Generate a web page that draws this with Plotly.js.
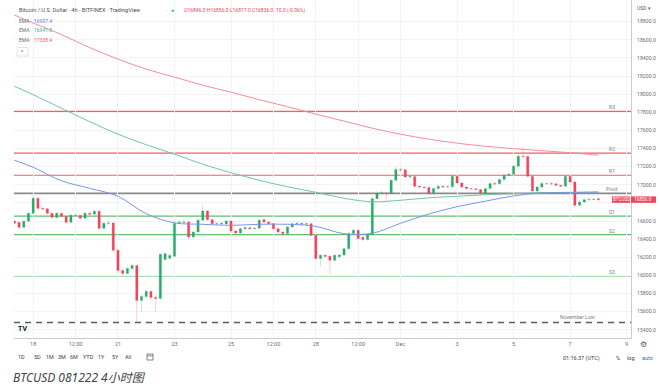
<!DOCTYPE html>
<html><head><meta charset="utf-8">
<script src="https://cdn.plot.ly/plotly-3.0.1.min.js"></script>
<style>html,body{margin:0;padding:0;background:#fff;}#chart{width:660px;height:388px;}</style>
</head><body><div id="chart"></div>
<script>
// ---------- DATA ----------
const candleStart = '2022-11-17T08:00:00Z';   // first 4h candle
const candleHours = 4;
const openP = [
16600,16586,16530,16597,16685,16851,16740,16735,16685,16640,
16685,16652,16585,16663,16660,16630,16685,16674,16707,16520,
16575,16578,16276,16055,16022,16077,16110,15724,15768,15823,
15757,15745,16175,16190,16210,16575,16585,16590,16423,16478,
16608,16710,16615,16571,16568,16568,16600,16490,16467,16516,
16527,16516,16520,16615,16590,16571,16516,16478,16461,16534,
16571,16575,16563,16571,16442,16185,16221,16210,16166,16205,
16225,16295,16461,16497,16420,16395,16450,16847,16903,16910,
16903,17050,17168,17165,17086,17090,16983,16976,16970,16903,
16958,16983,16976,16978,17094,17020,16976,16958,16955,16947,
16909,16958,17013,17010,17057,17105,17116,17204,17315,17312,
17094,16931,16976,17013,17015,17010,16995,16983,17094,17031,
16773,16810,16836,16838,16846];
const highP = [
16610,16595,16610,16700,16880,16860,16760,16745,16695,16700,
16695,16660,16675,16680,16670,16700,16695,16730,16715,16590,
16600,16590,16290,16080,16090,16130,16120,15790,15850,15835,
15770,16250,16260,16240,16600,16610,16620,16600,16495,16625,
16770,16720,16625,16585,16590,16615,16610,16500,16530,16545,
16535,16535,16625,16630,16600,16580,16525,16490,16545,16585,
16590,16585,16590,16580,16450,16235,16230,16220,16235,16240,
16310,16480,16520,16505,16430,16465,16870,16930,16935,16925,
17065,17200,17185,17175,17105,17095,16995,16990,16980,16970,
17000,16995,16995,17110,17100,17030,16985,16970,16965,16955,
16970,17025,17030,17070,17120,17135,17220,17350,17420,17330,
17100,16990,17030,17030,17025,17020,17000,17110,17100,17040,
16830,16850,16855,16855,16856];
const lowP = [
16560,16510,16520,16590,16670,16725,16720,16670,16630,16630,
16640,16570,16575,16645,16615,16620,16660,16665,16500,16505,
16560,16250,16020,15990,16010,16060,15480,15600,15750,15740,
15600,15730,16160,16170,16200,16560,16570,16400,16405,16470,
16600,16600,16555,16555,16555,16560,16475,16430,16455,16505,
16500,16505,16510,16575,16560,16500,16460,16430,16450,16525,
16560,16550,16555,16425,16170,16100,16195,16010,16150,16190,
16215,16285,16450,16395,16380,16385,16440,16835,16890,16820,
16895,17040,17140,17075,17070,16970,16960,16955,16890,16890,
16950,16965,16965,16970,17010,16965,16945,16940,16935,16895,
16900,16950,16995,17000,17050,17095,17105,17195,17290,17080,
16910,16920,16965,17000,16995,16985,16970,16975,17020,16750,
16760,16800,16825,16825,16817];
const closeP = [
16575,16530,16597,16685,16851,16740,16735,16685,16640,16685,
16652,16585,16663,16660,16630,16685,16674,16707,16520,16575,
16578,16276,16055,16022,16077,16110,15724,15768,15823,15757,
15745,16232,16240,16220,16575,16585,16590,16423,16478,16608,
16710,16615,16571,16568,16575,16600,16490,16467,16516,16527,
16516,16520,16608,16590,16571,16516,16478,16461,16534,16571,
16575,16563,16571,16442,16185,16221,16210,16166,16221,16225,
16295,16461,16497,16406,16395,16450,16847,16903,16910,16903,
17050,17168,17165,17086,17090,16983,16976,16970,16903,16958,
16983,16976,16978,17094,17020,16976,16958,16955,16947,16909,
16958,17013,17010,17057,17105,17116,17204,17315,17312,17094,
16931,16976,17013,17015,17010,16995,16983,17094,17031,16773,
16810,16836,16838,16840,16836];

const emaTimes = ['2022-11-17 08:00','2022-11-18','2022-11-19','2022-11-20','2022-11-21','2022-11-22',
  '2022-11-23','2022-11-24','2022-11-25','2022-11-26','2022-11-27','2022-11-28','2022-11-29',
  '2022-11-30','2022-12-01','2022-12-02','2022-12-03','2022-12-04','2022-12-05','2022-12-06',
  '2022-12-07','2022-12-08'];
const emaBlue = [17271,17193,17044,16961,16873,16680,16580,16564,16552,16564,16564,16541,
  16460,16465,16575,16677,16758,16819,16877,16910,16912,16912];
const emaTeal = [18088,17994,17845,17696,17558,17442,17337,17227,17133,17050,16978,16917,
  16851,16812,16829,16856,16873,16890,16901,16912,16917,16923];
const emaRed  = [18873,18785,18657,18514,18387,18276,18188,18099,18022,17939,17862,17779,
  17702,17624,17558,17503,17459,17425,17398,17376,17354,17326];
const emaLegend = ['16907.4','16941.0','17338.4'];

const levelNames  = ['R3','R2','R1','Pivot','S1','S2','S3'];
const levelValues = [17810,17350,17105,16905,16655,16450,15995];
const novemberLow = 15480;

const xTickVals = ['2022-11-18','2022-11-19 12:00','2022-11-21','2022-11-23','2022-11-25',
  '2022-11-26 12:00','2022-11-28','2022-11-29 12:00','2022-12-01','2022-12-03','2022-12-05',
  '2022-12-07','2022-12-09'];
const xTickText = ['18','12:00','21','23','25','12:00','28','12:00','Dec','3','5','7','9'];
const yTickVals = [15400,15600,15800,16000,16200,16400,16600,16800,17000,17200,17400,17600,
  17800,18000,18200,18400,18600,18800];
const yTickText = ['15400.0','15600.0','15800.0','16000.0','16200.0','16400.0','16600.0','',
  '17000.0','17200.0','17400.0','17600.0','17800.0','18000.0','18200.0','18400.0','18600.0','18800.0'];
const rangeButtons = ['1D','5D','1M','3M','6M','YTD','1Y','5Y','All'];

// ---------- BUILD ----------
const t0 = Date.parse(candleStart);
const candleTimes = closeP.map((_, i) =>
  new Date(t0 + i * candleHours * 3600e3).toISOString().slice(0, 16).replace('T', ' '));

const UP = '#2eaa6c', DOWN = '#f0455a';
const ML = 14, MR = 29, MT = 0, MB = 50, W = 660, H = 388;
const PW = W - ML - MR, PH = H - MT - MB;
const px = x => (x - ML) / PW;
const py = y => 1 - (y - MT) / PH;
const FONT = 'Roboto, "Noto Sans", "Liberation Sans", sans-serif';

function txt(x, y, text, size, color, anchor, extra) {
  return Object.assign({xref:'paper', yref:'paper', x:px(x), y:py(y), text:text, showarrow:false,
    xanchor:anchor||'left', yanchor:'middle', font:{size:size, color:color, family:FONT}}, extra||{});
}

const traces = [
  {type:'scatter', mode:'lines', x:emaTimes, y:emaTeal, line:{color:'#72c4a9', width:1, shape:'spline'}, hoverinfo:'skip'},
  {type:'scatter', mode:'lines', x:emaTimes, y:emaRed, line:{color:'#f28e98', width:1, shape:'spline'}, hoverinfo:'skip'},
  {type:'scatter', mode:'lines', x:emaTimes, y:emaBlue, line:{color:'#7b95e6', width:1, shape:'spline'}, hoverinfo:'skip'},
  {type:'candlestick', x:candleTimes, open:openP, high:highP, low:lowP, close:closeP,
    increasing:{line:{color:'rgba(46,170,108,0.45)', width:0.6}, fillcolor:UP},
    decreasing:{line:{color:'rgba(240,69,90,0.45)', width:0.6}, fillcolor:DOWN},
    whiskerwidth:0, hoverinfo:'skip'}
];

const levelColor = n => n[0] === 'R' ? '#f25c6b' : (n[0] === 'S' ? '#62bd72' : '#8a8a8a');
const shapes = levelNames.map((n, i) => ({type:'line', xref:'paper', x0:0, x1:1, yref:'y',
  y0:levelValues[i], y1:levelValues[i], line:{color:levelColor(n), width:n === 'Pivot' ? 1.8 : 1.2}, layer:'below'}));
shapes.push({type:'line', xref:'paper', x0:0, x1:1, yref:'y', y0:novemberLow, y1:novemberLow,
  line:{color:'#5a5d66', width:1.4, dash:'6px,5px'}});
const lastClose = closeP[closeP.length - 1];
shapes.push({type:'rect', xref:'paper', x0:px(612), x1:px(630), yref:'y', ysizemode:'pixel',
  yanchor:lastClose, y0:-3.2, y1:3.2, fillcolor:'#f0455a', line:{width:0}});
shapes.push({type:'rect', xref:'paper', x0:px(631), x1:px(656), yref:'y', ysizemode:'pixel',
  yanchor:lastClose, y0:-3.2, y1:3.2, fillcolor:'#f0455a', line:{width:0}});
// calendar icon
shapes.push({type:'rect', xref:'paper', yref:'paper', x0:px(147), x1:px(153), y0:py(360), y1:py(354),
  line:{color:'#666', width:0.8}});
shapes.push({type:'line', xref:'paper', yref:'paper', x0:px(147), x1:px(153), y0:py(355.8), y1:py(355.8),
  line:{color:'#666', width:0.8}});
// collapse button
shapes.push({type:'rect', xref:'paper', yref:'paper', x0:px(17), x1:px(28), y0:py(56), y1:py(47.5),
  line:{color:'#cfd2d8', width:0.6}});

const ann = [];
ann.push(txt(17, 10, 'Bitcoin / U.S. Dollar · 4h · BITFINEX · TradingView', 5.6, '#4a4d55'));
ann.push(txt(173, 10, '●', 5, '#26a69a', 'center'));
const last = closeP.length - 1;
const chg = closeP[last] - openP[last];
ann.push(txt(182, 10, 'O' + openP[last].toFixed(1) + ' H' + highP[last].toFixed(1) + ' L' + lowP[last].toFixed(1) +
  ' C' + closeP[last].toFixed(1) + ' ' + chg.toFixed(1) + ' (' + (chg / openP[last] * 100).toFixed(2) + '%)', 5, '#f0455a'));
const emaCols = ['#5b7be0', '#3fae8a', '#f0606e'];
[20.7, 30.2, 40].forEach((y, i) => {
  ann.push(txt(17, y, 'EMA', 5, '#6a6d78'));
  ann.push(txt(31.5, y, emaLegend[i], 5, emaCols[i]));
});
ann.push(txt(22.5, 52.5, '^', 5.5, '#555', 'center'));
ann.push(txt(635, 8, 'USD ▾', 5, '#555'));
levelNames.forEach((n, i) => ann.push({xref:'paper', yref:'y', x:px(612), y:levelValues[i], yshift:4,
  text:n, showarrow:false, xanchor:'center', yanchor:'middle', font:{size:5.2, color:'#7d808a', family:FONT}}));
ann.push({xref:'paper', yref:'y', x:px(577), y:novemberLow, yshift:5.5, text:'November Low', showarrow:false,
  xanchor:'center', yanchor:'middle', font:{size:5.2, color:'#7d808a', family:FONT}});
ann.push({xref:'paper', yref:'y', x:px(621), y:lastClose, text:'BTCUSD', showarrow:false,
  xanchor:'center', yanchor:'middle', font:{size:4.6, color:'#fff', family:FONT}});
ann.push({xref:'paper', yref:'y', x:px(643.5), y:lastClose, text:lastClose.toFixed(1), showarrow:false,
  xanchor:'center', yanchor:'middle', font:{size:4.8, color:'#fff', family:FONT}});
ann.push(txt(22, 328.5, '<b>TV</b>', 7, '#131722', 'center'));
const btnX = [21.7, 37, 50, 61.7, 74, 88, 101.7, 115, 128];
rangeButtons.forEach((b, i) => ann.push(txt(btnX[i], 357.3, b, 5.5, '#3a3d45', 'center')));
ann.push(txt(581, 358, '01:16:37 (UTC)', 5.5, '#3a3d45', 'center'));
ann.push(txt(618, 358, '%', 5.5, '#3a3d45', 'center'));
ann.push(txt(631, 358, 'log', 5.5, '#3a3d45', 'center'));
ann.push(txt(647, 358, 'auto', 5.5, '#2962ff', 'center'));
ann.push(txt(643.5, 344, '⚙', 8, '#555', 'center'));
ann.push(txt(11, 377, '<i>BTCUSD 081222 4小时图</i>', 12, '#444', 'left',
  {font:{size:12, color:'#444', family:'"Noto Sans", "Noto Sans CJK SC", sans-serif'}}));

const layout = {
  width:W, height:H, margin:{l:ML, r:MR, t:MT, b:MB, pad:0},
  paper_bgcolor:'#fff', plot_bgcolor:'#fff', showlegend:false,
  font:{family:FONT, size:6, color:'#6a6d78'},
  xaxis:{type:'date', range:['2022-11-17 07:42','2022-12-09 03:42'], tickmode:'array',
    tickvals:xTickVals, ticktext:xTickText, tickfont:{size:5.5, color:'#6a6d78'},
    showgrid:true, gridcolor:'#f1f3f6', gridwidth:1, zeroline:false, showline:true,
    linecolor:'#c9ccd3', linewidth:1, ticks:'', rangeslider:{visible:false}, fixedrange:true},
  yaxis:{side:'right', range:[15309, 19039], tickmode:'array', tickvals:yTickVals, ticktext:yTickText,
    tickfont:{size:5.2, color:'#6a6d78'}, showgrid:true, gridcolor:'#f1f3f6', gridwidth:1,
    zeroline:false, showline:true, linecolor:'#c9ccd3', linewidth:1, ticks:'outside', ticklen:4,
    tickcolor:'rgba(0,0,0,0)', fixedrange:true},
  shapes:shapes, annotations:ann, hovermode:false
};
Plotly.newPlot('chart', traces, layout, {displayModeBar:false, staticPlot:true});
</script></body></html>
